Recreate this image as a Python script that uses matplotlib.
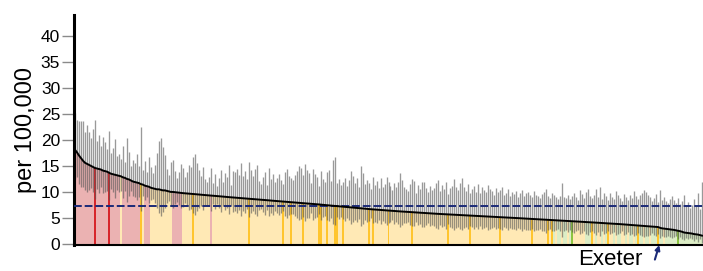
import matplotlib
matplotlib.use("Agg")
import matplotlib.pyplot as plt
import numpy as np

plt.rcParams['font.family'] = ['Liberation Sans', 'DejaVu Sans']

# rate per 100,000, ranked, one entry per local authority
rate = [
    18.1, 17.6, 17.0, 16.5, 16.0, 15.6, 15.4, 15.2, 15.0, 14.8,
    14.6, 14.5, 14.4, 14.3, 14.1, 14.0, 13.9, 13.7, 13.5, 13.4,
    13.3, 13.2, 13.1, 13.0, 12.8, 12.7, 12.5, 12.4, 12.2, 12.0,
    11.9, 11.8, 11.7, 11.5, 11.4, 11.2, 11.1, 11.0, 10.8, 10.7,
    10.6, 10.5, 10.5, 10.4, 10.3, 10.3, 10.2, 10.1, 10.0, 10.0,
    9.95, 9.9, 9.85, 9.8, 9.77, 9.74, 9.7, 9.67, 9.63, 9.6,
    9.57, 9.54, 9.5, 9.47, 9.44, 9.4, 9.37, 9.34, 9.3, 9.27,
    9.24, 9.2, 9.17, 9.14, 9.1, 9.07, 9.04, 9.0, 8.97, 8.94,
    8.91, 8.88, 8.85, 8.82, 8.78, 8.75, 8.72, 8.69, 8.66, 8.63,
    8.6, 8.56, 8.53, 8.5, 8.47, 8.44, 8.41, 8.38, 8.34, 8.31,
    8.28, 8.25, 8.22, 8.19, 8.16, 8.12, 8.09, 8.06, 8.03, 8.0,
    7.97, 7.94, 7.91, 7.88, 7.85, 7.82, 7.79, 7.76, 7.73, 7.7,
    7.66, 7.63, 7.6, 7.56, 7.52, 7.49, 7.45, 7.42, 7.38, 7.35,
    7.31, 7.28, 7.24, 7.21, 7.17, 7.14, 7.1, 7.07, 7.03, 7.0,
    6.96, 6.93, 6.89, 6.86, 6.82, 6.79, 6.75, 6.72, 6.68, 6.65,
    6.61, 6.58, 6.54, 6.51, 6.48, 6.45, 6.43, 6.4, 6.38, 6.35,
    6.33, 6.3, 6.28, 6.25, 6.23, 6.2, 6.18, 6.15, 6.13, 6.1,
    6.08, 6.05, 6.03, 6.0, 5.98, 5.95, 5.93, 5.9, 5.88, 5.85,
    5.83, 5.8, 5.78, 5.76, 5.74, 5.72, 5.7, 5.68, 5.66, 5.64,
    5.62, 5.6, 5.58, 5.56, 5.54, 5.52, 5.5, 5.48, 5.46, 5.44,
    5.42, 5.4, 5.38, 5.36, 5.34, 5.32, 5.3, 5.28, 5.26, 5.24,
    5.22, 5.2, 5.18, 5.16, 5.14, 5.12, 5.1, 5.08, 5.06, 5.03,
    5.0, 4.98, 4.96, 4.94, 4.91, 4.89, 4.87, 4.85, 4.83, 4.8,
    4.78, 4.76, 4.74, 4.72, 4.69, 4.67, 4.65, 4.63, 4.61, 4.58,
    4.56, 4.54, 4.52, 4.5, 4.47, 4.45, 4.43, 4.41, 4.38, 4.36,
    4.34, 4.32, 4.3, 4.27, 4.25, 4.23, 4.21, 4.18, 4.16, 4.14,
    4.12, 4.09, 4.07, 4.05, 4.02, 4.0, 3.98, 3.95, 3.93, 3.9,
    3.88, 3.86, 3.83, 3.81, 3.78, 3.76, 3.73, 3.71, 3.68, 3.65,
    3.62, 3.59, 3.56, 3.53, 3.5, 3.47, 3.44, 3.41, 3.38, 3.35,
    3.32, 3.28, 3.25, 3.1, 3.0, 2.95, 2.9, 2.85, 2.8, 2.75,
    2.7, 2.62, 2.55, 2.45, 2.35, 2.2, 2.15, 2.1, 2.05, 2.0,
    1.9, 1.85, 1.8, 1.7, 1.6,
]

upper = [
    25.2, 23.8, 23.7, 23.6, 23.6, 21.6, 22.8, 21.5, 20.4, 22.0,
    23.9, 19.8, 21.0, 18.9, 20.6, 19.6, 18.2, 21.8, 17.5, 18.4,
    20.1, 16.9, 17.3, 16.4, 18.8, 15.8, 20.3, 17.6, 14.9, 16.1,
    15.6, 17.2, 15.0, 22.5, 14.3, 15.9, 13.8, 16.8, 14.7, 13.6,
    15.2, 17.5, 19.8, 20.3, 18.6, 17.0, 14.4, 13.2, 15.8, 16.2,
    14.1, 12.7, 13.9, 15.4, 14.6, 12.9, 13.8, 15.2, 14.7, 16.8,
    17.3, 15.6, 14.2, 13.0, 14.8, 12.4, 12.0, 12.9, 14.6, 11.7,
    13.5, 11.2, 12.6, 14.3, 11.9, 13.7, 12.8, 15.2, 11.4, 14.1,
    13.8, 14.5, 13.2, 15.6, 13.0, 14.0, 12.5, 15.8, 14.2, 13.1,
    14.4, 15.1, 12.1, 11.6, 12.8, 13.9, 11.3, 14.6, 12.4, 13.5,
    11.9, 12.7, 13.4, 12.2, 11.5, 13.8, 14.4, 13.0, 12.6, 12.2,
    13.3, 14.1, 15.0, 14.6, 13.2, 15.4, 14.2, 13.7, 11.8, 14.5,
    13.4, 12.8, 11.2, 14.0, 12.5, 11.9, 13.8, 14.2, 12.1, 16.2,
    16.8, 11.7, 12.4, 11.3, 11.9, 12.6, 11.1, 12.2, 14.1, 13.0,
    11.8, 12.6, 11.0, 14.9, 13.6, 11.6, 12.3, 11.8, 10.6, 12.8,
    11.4, 12.1, 10.8, 12.7, 10.9, 11.6, 12.9, 11.9, 11.2, 10.3,
    11.7, 10.9, 12.0, 13.6, 12.2, 11.0, 10.6, 10.2, 11.5, 12.4,
    12.1, 9.8, 11.3, 10.5, 11.9, 12.0, 10.8, 9.9, 11.1, 10.4,
    10.7, 11.8, 12.3, 10.1, 11.4, 10.6, 11.9, 9.6, 10.8, 11.2,
    12.5, 11.0, 10.3, 11.7, 12.7, 10.9, 10.2, 11.6, 9.8, 10.5,
    11.1, 10.0, 11.5, 9.7, 10.9, 10.4, 9.9, 11.3, 10.6, 10.1,
    9.4, 10.8, 9.9, 10.3, 11.0, 9.5, 9.8, 10.5, 9.3, 10.0,
    9.6, 10.2, 9.1, 9.7, 10.4, 9.2, 9.8, 10.0, 9.4, 9.0,
    10.1, 9.5, 9.2, 8.8, 9.6, 9.9, 10.6, 9.3, 8.9, 9.7,
    9.4, 9.0, 8.6, 9.2, 11.7, 9.1, 8.8, 9.5, 8.7, 9.3,
    9.8, 9.1, 8.5, 10.4, 9.6, 8.9, 9.9, 10.6, 9.2, 8.8,
    9.4, 10.5, 9.0, 10.9, 8.6, 9.7, 9.3, 8.4, 9.8, 9.1,
    8.7, 10.2, 9.5, 8.9, 8.3, 9.6, 9.0, 8.5, 9.4, 8.8,
    10.1, 9.2, 8.6, 9.4, 9.8, 10.3, 9.9, 9.5, 9.0, 8.2,
    8.9, 9.6, 8.0, 10.4, 8.5, 9.1, 8.3, 7.9, 8.7, 9.3,
    8.4, 7.8, 8.9, 7.6, 8.2, 9.4, 7.5, 8.1, 6.9, 7.4,
    8.6, 7.2, 9.7, 6.8, 11.9,
]

lower = [
    12.4, 12.9, 11.6, 11.0, 10.9, 10.3, 10.0, 10.4, 10.8, 9.9,
    8.6, 10.6, 9.8, 10.9, 9.7, 9.9, 10.2, 8.4, 10.5, 9.9,
    8.9, 10.3, 9.9, 10.2, 8.8, 10.1, 8.0, 9.2, 10.1, 9.3,
    9.1, 8.4, 9.0, 6.3, 9.3, 8.5, 9.1, 7.9, 8.5, 8.7,
    7.8, 6.9, 5.9, 5.4, 6.2, 6.9, 7.9, 8.2, 7.3, 6.9,
    7.6, 8.0, 7.5, 6.9, 7.1, 7.9, 7.4, 6.6, 6.8, 5.9,
    5.6, 6.4, 6.9, 7.3, 6.6, 7.4, 7.5, 7.2, 6.4, 7.6,
    6.8, 7.6, 7.0, 6.2, 7.3, 6.5, 6.9, 5.8, 7.4, 6.2,
    6.3, 5.9, 6.5, 5.4, 6.4, 6.0, 6.7, 5.2, 5.9, 6.3,
    5.7, 5.4, 6.5, 6.7, 6.1, 5.6, 6.6, 5.3, 5.9, 5.5,
    6.3, 5.9, 5.5, 6.0, 6.3, 5.3, 5.0, 5.5, 5.7, 5.8,
    5.3, 4.9, 4.6, 4.8, 5.2, 4.5, 4.9, 5.0, 5.9, 4.7,
    4.9, 5.1, 5.7, 4.6, 5.1, 5.3, 4.6, 4.4, 5.0, 3.8,
    3.6, 5.1, 4.8, 5.2, 4.8, 4.5, 5.0, 4.6, 3.9, 4.2,
    4.6, 4.3, 4.8, 3.5, 3.9, 4.6, 4.3, 4.4, 4.9, 4.0,
    4.3, 4.0, 4.6, 3.9, 4.5, 4.1, 3.6, 4.0, 4.2, 4.6,
    3.9, 4.2, 3.8, 3.3, 3.6, 4.0, 4.1, 4.3, 3.7, 3.4,
    3.4, 4.3, 3.6, 3.9, 3.3, 3.2, 3.7, 4.0, 3.5, 3.7,
    3.5, 3.1, 2.9, 3.7, 3.2, 3.4, 2.9, 3.8, 3.3, 3.1,
    2.7, 3.1, 3.3, 2.9, 2.6, 3.1, 3.3, 2.8, 3.5, 3.2,
    2.9, 3.3, 2.8, 3.4, 2.9, 3.0, 3.2, 2.7, 2.9, 3.1,
    3.3, 2.8, 3.1, 2.9, 2.6, 3.2, 3.0, 2.7, 3.1, 2.8,
    2.9, 2.7, 3.0, 2.8, 2.5, 2.9, 2.6, 2.6, 2.7, 2.9,
    2.4, 2.6, 2.7, 2.9, 2.5, 2.4, 2.1, 2.6, 2.8, 2.4,
    2.5, 2.6, 2.8, 2.5, 1.4, 2.5, 2.6, 2.3, 2.6, 2.3,
    2.1, 2.4, 2.6, 1.9, 2.2, 2.5, 2.0, 1.8, 2.3, 2.4,
    2.2, 1.7, 2.3, 1.6, 2.4, 2.0, 2.1, 2.5, 1.9, 2.1,
    2.3, 1.7, 1.9, 2.2, 2.4, 1.8, 2.0, 2.3, 1.8, 2.0,
    1.5, 1.8, 2.1, 1.7, 1.5, 1.4, 1.5, 1.6, 1.8, 2.1,
    1.8, 1.5, 2.0, 1.2, 1.6, 1.3, 1.4, 1.6, 1.3, 1.1,
    1.3, 1.5, 1.0, 1.3, 1.0, 0.7, 1.2, 0.9, 1.2, 0.9,
    0.6, 0.9, 0.4, 0.9, 0.2,
]

# R = significantly higher, Y = similar, G = significantly lower
signif = (
    "RRRRRRRRRR" "RRRRRRRRRR" "RRRYRRRRRR" "RRRYYRRRYY" "YYYYYYYYYR"
    "RRRRYYYYYY" "YYYYYYYYRY" "YYYYYYYYYY" "YYYYYYYYYY" "YYYYYYYYYY"
    "YYYYYYYYYY" "YYYYYYYYYY" "YYYYYYYYYY" "YYYYYYYYYY" "YYYYYYYYYY"
    "YYYYYYYYYY" "YYYYYYYYYY" "YYYYYYYYYY" "YYYYYYYYYY" "YYYYYYYYYY"
    "YYYYYYYYYY" "YYYYYYYYYY" "YYYYYYYYYY" "YYYYYYYYYY" "GYGGYGGYGY"
    "YYYYYYGGGG" "YGYYGYGYYY" "GYGGYYGYGG" "YGYGGYGGYG" "GGYGGYGGGG"
    "GGGGGGGGGG" "GGGGG"
)

# highlighted areas (same region as Exeter)
hl_red = [10, 17]
hl_gold = [33, 59, 87, 104, 108, 114, 122, 123, 126, 130, 131, 134, 147, 149,
           157, 169, 187, 198, 213, 229, 237, 239, 259, 267, 282, 292]
hl_green = [249, 302]

england = 7.3
exeter = 292

base_col = {"R": "#ebb2b2", "Y": "#ffe9b5", "G": "#dcedc6"}

n = len(rate)
x = np.arange(n)
colors = [base_col[s] for s in signif]
for i in hl_red:
    colors[i] = "#d7262b"
for i in hl_gold:
    colors[i] = "#ffc52e"
for i in hl_green:
    colors[i] = "#8cc43f"

fig = plt.figure(figsize=(7.03, 2.71), dpi=100)
ax = fig.add_axes([74 / 703, 26 / 271, 629 / 703, 230 / 271])

ax.bar(x, rate, width=1.0, color=colors, linewidth=0, zorder=1)
ax.vlines(x, lower, upper, color="#555555", alpha=0.6, lw=0.95, zorder=2)
ax.axhline(england, color="#1b2a78", lw=1.4, ls=(0, (4, 1.5)), zorder=3)
ax.plot(x, rate, color="black", lw=1.4, zorder=4)

ax.set_xlim(-0.5, n - 0.5)
ax.set_ylim(-0.2, 44)
ax.set_yticks(np.arange(0, 41, 5))
ax.set_xticks([])
ax.tick_params(axis="y", length=8.5, width=1, color="#8a8a8a", pad=1.5, labelsize=12.5)
ax.spines["top"].set_visible(False)
ax.spines["right"].set_visible(False)
ax.spines["left"].set_linewidth(2.2)
ax.spines["bottom"].set_linewidth(1.5)

fig.text(26 / 703, 1 - 130 / 271, "per 100,000", rotation=90,
         ha="center", va="center", fontsize=17)

ax.text(exeter - 8, -2.9, "Exeter", ha="right", va="center", fontsize=16, clip_on=False)
ax.annotate("", xy=(exeter + 0.6, -0.2), xytext=(exeter - 1.6, -3.0),
            arrowprops=dict(arrowstyle="-|>", color="#1b2a78", lw=1.5,
                            mutation_scale=7, shrinkA=0, shrinkB=0),
            annotation_clip=False)

fig.savefig("out.png", dpi=100)
